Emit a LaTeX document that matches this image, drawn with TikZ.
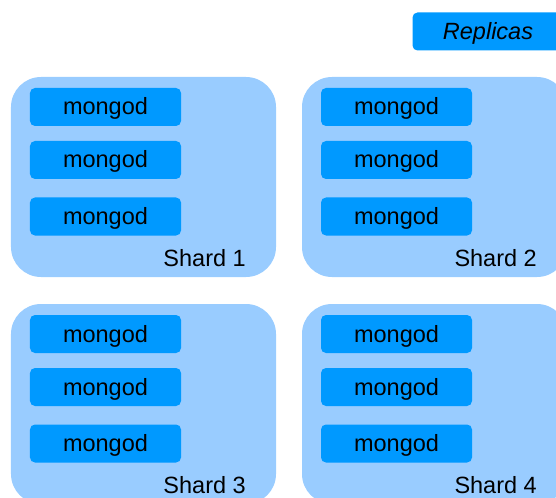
\documentclass[tikz,border=0pt]{standalone}
\usepackage{fontspec}
\setmainfont{Liberation Sans}
\usepackage{tikz}

\definecolor{shardblue}{RGB}{153,204,255}
\definecolor{mongoblue}{RGB}{0,153,255}

\begin{document}
\begin{tikzpicture}[x=1bp,y=-1bp,
		shardbox/.style={rectangle, fill=shardblue, rounded corners=30bp, inner sep=0pt,
			minimum width=265bp, minimum height=200bp},
		mongobox/.style={rectangle, fill=mongoblue, rounded corners=5bp, inner sep=0pt,
			minimum width=151bp, minimum height=38bp, text height=17bp, text depth=1bp,
			font=\fontsize{23.5bp}{28bp}\selectfont},
		shardlabel/.style={anchor=base east, inner sep=0pt,
			font=\fontsize{23.5bp}{28bp}\selectfont}]
		
		\useasboundingbox (0,0) rectangle (556,498);
		\clip (0,0) rectangle (556,498);
		
		% Legend
		
		\node[mongobox, font=\fontsize{23.5bp}{28bp}\selectfont\itshape] 
		(replicas) at (488,31.5) {Replicas};
		
		% Shards
		
		\node[shardbox] (shard1) at (143.5,177) {};
		\node[shardbox] (shard2) at (434.5,177) {};
		\node[shardbox] (shard3) at (143.5,404) {};
		\node[shardbox] (shard4) at (434.5,404) {};
		
		\node[shardlabel] (label1) at (246,266) {Shard 1};
		\node[shardlabel] (label2) at (537,266) {Shard 2};
		\node[shardlabel] (label3) at (246,493) {Shard 3};
		\node[shardlabel] (label4) at (537,493) {Shard 4};
		
		% Replica sets
		
		\node[mongobox] (mongod1a) at (105.5,107) {mongod};
		\node[mongobox] (mongod1b) at (105.5,160) {mongod};
		\node[mongobox] (mongod1c) at (105.5,216.5) {mongod};
		
		\node[mongobox] (mongod2a) at (396.5,107) {mongod};
		\node[mongobox] (mongod2b) at (396.5,160) {mongod};
		\node[mongobox] (mongod2c) at (396.5,216.5) {mongod};
		
		\node[mongobox] (mongod3a) at (105.5,334) {mongod};
		\node[mongobox] (mongod3b) at (105.5,387) {mongod};
		\node[mongobox] (mongod3c) at (105.5,443.5) {mongod};
		
		\node[mongobox] (mongod4a) at (396.5,334) {mongod};
		\node[mongobox] (mongod4b) at (396.5,387) {mongod};
		\node[mongobox] (mongod4c) at (396.5,443.5) {mongod};
		
	\end{tikzpicture}
\end{document}
